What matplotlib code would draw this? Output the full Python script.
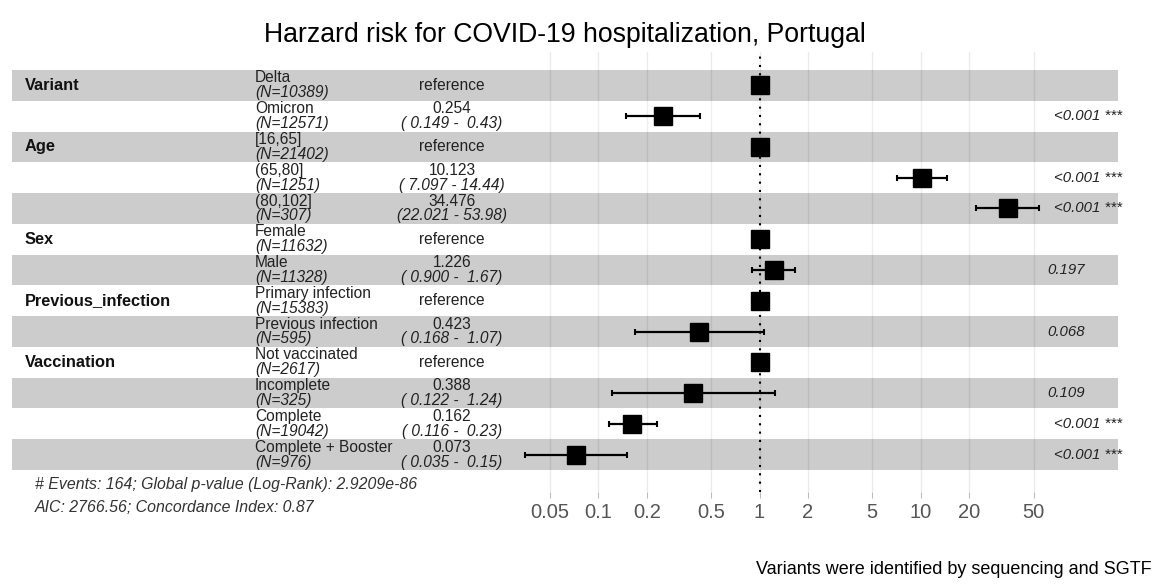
import numpy as np
import matplotlib
matplotlib.use("Agg")
import matplotlib.pyplot as plt

plt.rcParams['font.family'] = ['Liberation Sans', 'DejaVu Sans']

# 变量与水平
variables = ["Variant", "", "Age", "", "", "Sex", "", "Previous_infection", "",
             "Vaccination", "", "", ""]
levels = ["Delta", "Omicron", "[16,65]", "(65,80]", "(80,102]", "Female", "Male",
          "Primary infection", "Previous infection", "Not vaccinated",
          "Incomplete", "Complete", "Complete + Booster"]
counts = [10389, 12571, 21402, 1251, 307, 11632, 11328, 15383, 595, 2617, 325,
          19042, 976]
hr = [1, 0.254, 1, 10.123, 34.476, 1, 1.226, 1, 0.423, 1, 0.388, 0.162, 0.073]
ci_low = [np.nan, 0.149, np.nan, 7.097, 22.021, np.nan, 0.900, np.nan, 0.168,
          np.nan, 0.122, 0.116, 0.035]
ci_high = [np.nan, 0.43, np.nan, 14.44, 53.98, np.nan, 1.67, np.nan, 1.07,
           np.nan, 1.24, 0.23, 0.15]
hr_text = ["reference", "0.254", "reference", "10.123", "34.476", "reference",
           "1.226", "reference", "0.423", "reference", "0.388", "0.162", "0.073"]
ci_text = ["", "( 0.149 -  0.43)", "", "( 7.097 - 14.44)", "(22.021 - 53.98)", "",
           "( 0.900 -  1.67)", "", "( 0.168 -  1.07)", "", "( 0.122 -  1.24)",
           "( 0.116 -  0.23)", "( 0.035 -  0.15)"]
pvals = ["", "<0.001 ***", "", "<0.001 ***", "<0.001 ***", "", "0.197", "",
         "0.068", "", "0.109", "<0.001 ***", "<0.001 ***"]
breaks = [0.05, 0.1, 0.2, 0.5, 1, 2, 5, 10, 20, 50]
break_labels = ["0.05", "0.1", "0.2", "0.5", "1", "2", "5", "10", "20", "50"]

W, H = 1157, 585
fig = plt.figure(figsize=(W / 100, H / 100), dpi=100)


def rect(x0, y0, x1, y1):
    return [x0 / W, 1 - y1 / H, (x1 - x0) / W, (y1 - y0) / H]


PX_L, PX_R = 12, 1122
ax = fig.add_axes(rect(PX_L, 52, PX_R, 492))
ax.set_xscale("log")
one_px, dec_px = 759.5, 161.3
ax.set_xlim(10 ** ((PX_L - one_px) / dec_px), 10 ** ((PX_R - one_px) / dec_px))
n = len(levels)
row_px = 30.8
ax.set_ylim(n - 0.5 + 22 / row_px, -0.5 - 18 / row_px)


def fx(px):
    return (px - PX_L) / (PX_R - PX_L)


tr = ax.get_yaxis_transform()

# 网格与条纹
ax.set_xticks(breaks)
ax.set_xticklabels(break_labels)
ax.minorticks_off()
ax.set_yticks([])
ax.grid(axis="x", color="#ebebeb", lw=1)
ax.set_axisbelow(True)
for s in ax.spines.values():
    s.set_visible(False)
ax.tick_params(axis="x", length=4, width=0.8, color="#bbbbbb",
               labelcolor="#555555", labelsize=14.5, pad=4)

for i in range(n):
    band = "black" if i % 2 == 0 else "white"
    ax.axhspan(i - 0.5, i + 0.5, xmin=0, xmax=fx(1118), color=band, alpha=0.2,
               lw=0, zorder=1)

ax.axvline(1, ls=(0, (1, 3)), color="black", lw=1.5, zorder=2)

y = np.arange(n)
hr_a = np.array(hr)
lo = np.array(ci_low)
hi = np.array(ci_high)
mask = ~np.isnan(lo)
ax.errorbar(hr_a[mask], y[mask], xerr=[hr_a[mask] - lo[mask], hi[mask] - hr_a[mask]],
            fmt="none", ecolor="black", elinewidth=1.6, capsize=2.5, capthick=1.5,
            zorder=3)
ax.plot(hr_a, y, "s", ms=12.5, color="black", zorder=4)

# 表格文字
fs = 11.2
renderer = fig.canvas.get_renderer()
for i in range(n):
    if variables[i]:
        ax.text(fx(25), i, variables[i], transform=tr, ha="left", va="center",
                fontsize=11.8, fontweight="bold", color="#111111")
    ax.text(fx(255), i - 0.24, levels[i], transform=tr, ha="left", va="center",
            fontsize=fs, color="#222222")
    ax.text(fx(255), i + 0.24, f"(N={counts[i]})", transform=tr, ha="left",
            va="center", fontsize=fs, style="italic", color="#222222")
    if ci_text[i]:
        ax.text(fx(452), i - 0.24, hr_text[i], transform=tr, ha="center",
                va="center", fontsize=fs, color="#222222")
        ax.text(fx(452), i + 0.24, ci_text[i], transform=tr, ha="center",
                va="center", fontsize=fs, style="italic", color="#222222")
    else:
        ax.text(fx(452), i, hr_text[i], transform=tr, ha="center", va="center",
                fontsize=fs, color="#222222")
    if pvals[i]:
        # hjust = -0.2 一样的偏移
        t = ax.text(fx(1040), i, pvals[i], transform=tr, ha="left", va="center",
                    fontsize=10.8, style="italic", color="#222222")
        w = t.get_window_extent(renderer).width
        t.set_x(fx(1040 + 0.2 * w))

fig.text(565 / W, 1 - 35 / H, "Harzard risk for COVID-19 hospitalization, Portugal",
         ha="center", va="center", fontsize=19.2)
fig.text(35 / W, 1 - 484 / H, "# Events: 164; Global p-value (Log-Rank): 2.9209e-86",
         ha="left", va="center", fontsize=11.4, style="italic", color="#333333")
fig.text(35 / W, 1 - 508 / H, "AIC: 2766.56; Concordance Index: 0.87",
         ha="left", va="center", fontsize=11.4, style="italic", color="#333333")
fig.text(1152 / W, 1 - 570 / H, "Variants were identified by sequencing and SGTF",
         ha="right", va="center", fontsize=13)

fig.savefig("out.png", dpi=100)
